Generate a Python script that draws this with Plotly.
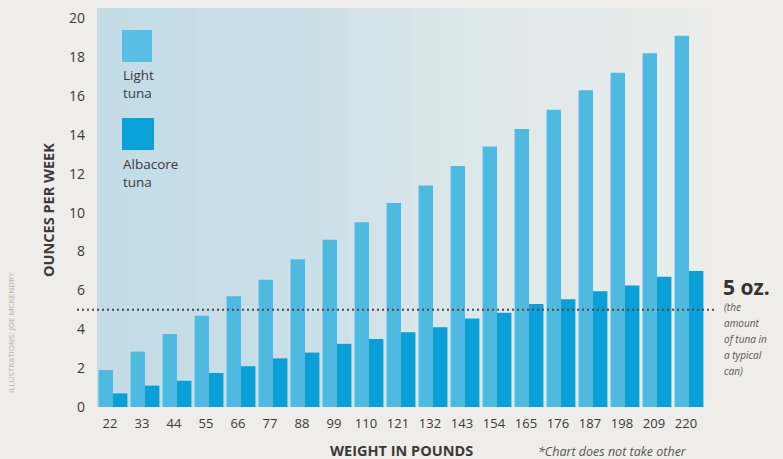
import plotly.graph_objects as go

# ---- data ----
weights = ["22", "33", "44", "55", "66", "77", "88", "99", "110", "121",
           "132", "143", "154", "165", "176", "187", "198", "209", "220"]
light_tuna = [1.9, 2.85, 3.75, 4.7, 5.7, 6.55, 7.6, 8.6, 9.5, 10.5,
              11.4, 12.4, 13.4, 14.3, 15.3, 16.3, 17.2, 18.2, 19.1]
albacore_tuna = [0.7, 1.1, 1.35, 1.75, 2.1, 2.5, 2.8, 3.25, 3.5, 3.85,
                 4.1, 4.55, 4.85, 5.3, 5.55, 5.95, 6.25, 6.7, 7.0]
y_ticks = [0, 2, 4, 6, 8, 10, 12, 14, 16, 18, 20]
can_amount = 5

LIGHT = "#4fbadf"
ALBA = "#0a9fd6"
PAPER = "#efede9"
TXT = "#3a3a3a"

W, H = 783, 459
ML, MR, MT, MB = 97, 78, 8, 52
PW, PH = W - ML - MR, H - MT - MB


def px(x):
    return (x - ML) / PW


def py(y):
    return (H - MB - y) / PH


fig = go.Figure()
fig.add_trace(go.Bar(x=weights, y=light_tuna, name="Light tuna",
                     marker=dict(color=LIGHT, line=dict(width=0))))
fig.add_trace(go.Bar(x=weights, y=albacore_tuna, name="Albacore tuna",
                     marker=dict(color=ALBA, line=dict(width=0))))

shapes = []
# background panel: horizontal gradient from blue to pale
stops = [(0.0, (195, 220, 230)), (0.33, (202, 223, 231)), (0.5, (214, 228, 233)),
         (0.66, (223, 232, 234)), (0.83, (229, 234, 234)), (1.0, (234, 237, 235))]


def col(t):
    for (a, ca), (b, cb) in zip(stops[:-1], stops[1:]):
        if a <= t <= b:
            f = (t - a) / (b - a)
            return "rgb(%d,%d,%d)" % tuple(round(ca[i] + (cb[i] - ca[i]) * f) for i in range(3))
    return "rgb(%d,%d,%d)" % stops[-1][1]


N = 48
for i in range(N):
    x0 = i / N
    x1 = (i + 1) / N + 0.002
    shapes.append(dict(type="rect", xref="paper", yref="paper", x0=x0, x1=min(x1, 1),
                       y0=0, y1=1, fillcolor=col((i + 0.5) / N), line=dict(width=0),
                       layer="below"))

# 5 oz. reference line
shapes.append(dict(type="line", xref="paper", yref="y", x0=px(77), x1=px(715),
                   y0=can_amount, y1=can_amount,
                   line=dict(color="#4a4a4a", width=2, dash="2px,3px"), layer="above"))

# legend squares
shapes.append(dict(type="rect", xref="paper", yref="paper", x0=px(122), x1=px(152),
                   y0=py(62), y1=py(30), fillcolor="#58bfe4", line=dict(width=0)))
shapes.append(dict(type="rect", xref="paper", yref="paper", x0=px(122), x1=px(154),
                   y0=py(150), y1=py(118), fillcolor="#0aa2d8", line=dict(width=0)))

ann = []
FONT = "Open Sans"


def label(text, x, y, size, color=TXT, xanchor="left", angle=0):
    ann.append(dict(xref="paper", yref="paper", x=px(x), y=py(y), xanchor=xanchor,
                    yanchor="middle", align="left", showarrow=False, textangle=angle,
                    text=text, font=dict(family=FONT, size=size, color=color)))


# legend text
label("Light<br>tuna", 121, 84.5, 13.5)
label("Albacore<br>tuna", 121, 173, 13.5)
# axis titles
label("<b>OUNCES PER WEEK</b>", 48, 210, 14.5, xanchor="center", angle=-90)
label("<b>WEIGHT IN POUNDS</b>", 401, 450, 14.5, xanchor="center")
label("<i>*Chart does not take other</i>", 536, 451, 12.5, color="#555555")
# credit
label("ILLUSTRATIONS: JOE MCKENDRY", 10, 333, 8, color="#b5b3ae", xanchor="center", angle=-90)
# 5 oz. note
label("<b>5 oz.</b>", 721, 287, 21, color="#333333")
note_lines = ["(the", "amount", "of tuna in", "a typical", "can)"]
for k, line in enumerate(note_lines):
    label("<i>%s</i>" % line, 722, 307 + 16 * k, 10, color="#555555")

fig.update_layout(
    width=W, height=H,
    margin=dict(l=ML, r=MR, t=MT, b=MB, pad=0),
    paper_bgcolor=PAPER, plot_bgcolor="rgba(0,0,0,0)",
    barmode="group", bargap=0.1, bargroupgap=0.0,
    showlegend=False,
    shapes=shapes, annotations=ann,
    font=dict(family=FONT, color=TXT),
)
fig.update_xaxes(type="category", showgrid=False, zeroline=False, showline=False,
                 ticks="", ticklabelstandoff=7, ticklabelshift=-3,
                 tickfont=dict(family=FONT, size=13, color=TXT))
fig.update_yaxes(range=[0, 20.53], tickvals=y_ticks, ticktext=[str(v) for v in y_ticks],
                 showgrid=False, zeroline=False, showline=False, ticks="",
                 ticklabelstandoff=11, tickfont=dict(family=FONT, size=14, color=TXT))

fig.write_html("out.html")
